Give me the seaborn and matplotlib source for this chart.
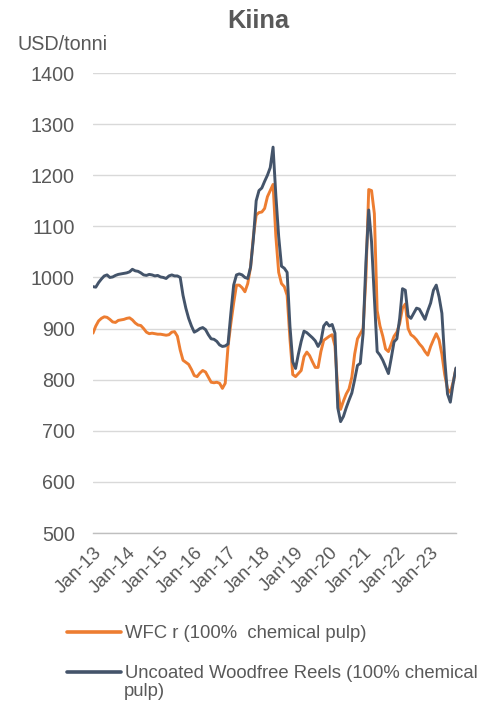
import numpy as np
import pandas as pd
import matplotlib
matplotlib.use("Agg")
import matplotlib.pyplot as plt
import seaborn as sns

# -------------------------------
# Data: monthly prices, Jan 2013 .. Oct 2023 (USD/tonne)
# -------------------------------
wfc = [
    891, 905, 915, 920, 923, 922, 918, 913, 912, 916, 917, 918,      # 2013
    920, 921, 917, 911, 907, 906, 900, 893, 890, 891, 890, 889,      # 2014
    889, 888, 887, 888, 893, 894, 885, 858, 838, 834, 830, 820,      # 2015
    808, 806, 813, 818, 815, 805, 795, 794, 795, 793, 783, 793,      # 2016
    865, 910, 950, 985, 985, 980, 972, 988, 1020, 1080, 1122, 1127,  # 2017
    1128, 1135, 1158, 1170, 1182, 1080, 1010, 988, 982, 965, 880, 810,  # 2018
    806, 812, 818, 845, 854, 847, 835, 824, 824, 855, 877, 881,      # 2019
    885, 888, 866, 780, 742, 758, 772, 782, 805, 850, 880, 890,      # 2020
    900, 1000, 1172, 1170, 1125, 935, 905, 885, 860, 855, 870, 885,  # 2021
    893, 910, 940, 948, 900, 888, 884, 878, 870, 864, 855, 848,      # 2022
    865, 878, 890, 878, 850, 810, 782, 775, 795, 822,                # 2023
]

uwf = [
    982, 981, 990, 997, 1003, 1005, 1000, 1001, 1004, 1006, 1007, 1008,  # 2013
    1009, 1011, 1016, 1013, 1012, 1009, 1005, 1004, 1006, 1005, 1003, 1004,  # 2014
    1001, 1000, 998, 1003, 1005, 1003, 1003, 1000, 965, 940, 920, 905,  # 2015
    893, 896, 900, 902, 898, 888, 880, 879, 875, 868, 865, 866,      # 2016
    870, 930, 985, 1005, 1007, 1005, 1000, 998, 1020, 1075, 1150, 1170,  # 2017
    1175, 1188, 1200, 1215, 1255, 1160, 1080, 1022, 1018, 1010, 905, 835,  # 2018
    822, 850, 875, 895, 892, 887, 882, 876, 865, 875, 905, 912,      # 2019
    905, 908, 891, 745, 718, 728, 745, 760, 774, 800, 828, 832,      # 2020
    890, 1030, 1132, 1070, 960, 855, 848, 838, 825, 812, 842, 874,   # 2021
    880, 920, 978, 975, 925, 920, 930, 940, 938, 928, 918, 935,      # 2022
    950, 975, 985, 962, 930, 840, 772, 756, 793, 823,                # 2023
]

tick_labels = ["Jan-13", "Jan-14", "Jan-15", "Jan-16", "Jan-17", "Jan-18",
               "Jan'19", "Jan-20", "Jan-21", "Jan-22", "Jan-23"]
series_names = ["WFC r (100%  chemical pulp)",
                "Uncoated Woodfree Reels (100% chemical\npulp)"]
colors = ["#ED7D31", "#44546A"]

months = np.arange(len(wfc))
df = pd.DataFrame({"month": np.concatenate([months, months]),
                   "price": wfc + uwf,
                   "series": [series_names[0]] * len(wfc) + [series_names[1]] * len(uwf)})

# -------------------------------
# Plot
# -------------------------------
sns.set_style("white")
plt.rcParams["font.family"] = ["Liberation Sans", "DejaVu Sans"]
text_col = "#595959"

fig = plt.figure(figsize=(4.83, 7.02), dpi=100)
ax = fig.add_axes([0.1925, 0.2407, 0.7515, 0.6553])

sns.lineplot(data=df, x="month", y="price", hue="series", palette=colors,
             linewidth=2.1, ax=ax, legend=False)

ax.set_xlim(0, len(wfc) - 1)
ax.set_ylim(500, 1400)
ax.set_yticks(range(500, 1401, 100))
ax.yaxis.grid(True, color="#D9D9D9", linewidth=1.0)
ax.set_axisbelow(True)
ax.set_xlabel("")
ax.set_ylabel("")

ax.set_xticks(np.arange(0, 121, 12))
ax.set_xticklabels(tick_labels, rotation=45, ha="right", rotation_mode="anchor",
                   fontsize=13.5, color=text_col)
ax.tick_params(axis="x", direction="out", length=5, width=1, color="#BFBFBF", pad=3)
ax.tick_params(axis="y", length=0, labelsize=14.2, labelcolor=text_col, pad=13)

for s in ["top", "right", "left"]:
    ax.spines[s].set_visible(False)
ax.spines["bottom"].set_color("#BFBFBF")
ax.spines["bottom"].set_linewidth(1.0)

fig.text(0.534, 0.9705, "Kiina", ha="center", va="center", fontsize=18.3,
         fontweight="bold", color=text_col)
fig.text(0.037, 0.937, "USD/tonni", ha="left", va="center", fontsize=14.2,
         color=text_col)

# legend: handle sits next to the first line of a wrapped label
first_lines = [name.split("\n")[0] for name in series_names]
handles = [plt.Line2D([], [], color=c, linewidth=2.6) for c in colors]
fig.legend(handles, first_lines, loc="upper left", bbox_to_anchor=(0.139, 0.109),
           frameon=False, fontsize=13.3, handlelength=2.9, handletextpad=0.22,
           labelspacing=1.22, labelcolor=text_col, borderaxespad=0, borderpad=0)
fig.text(0.257, 0.015, series_names[1].split("\n")[1], ha="left", va="center",
         fontsize=13.3, color=text_col)

fig.savefig("out.png", dpi=100)
